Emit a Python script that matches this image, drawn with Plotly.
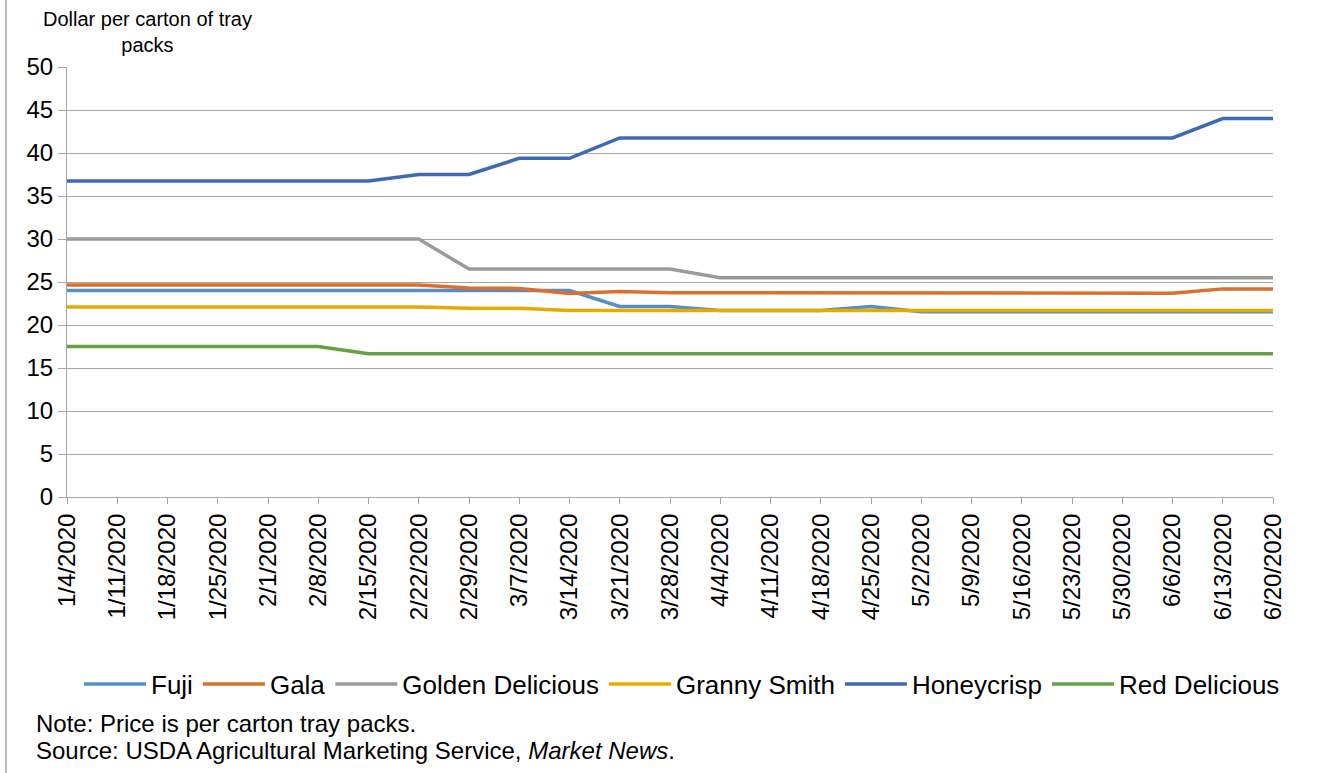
import plotly.graph_objects as go

dates = ["1/4/2020", "1/11/2020", "1/18/2020", "1/25/2020", "2/1/2020", "2/8/2020",
         "2/15/2020", "2/22/2020", "2/29/2020", "3/7/2020", "3/14/2020", "3/21/2020",
         "3/28/2020", "4/4/2020", "4/11/2020", "4/18/2020", "4/25/2020", "5/2/2020",
         "5/9/2020", "5/16/2020", "5/23/2020", "5/30/2020", "6/6/2020", "6/13/2020",
         "6/20/2020"]

fuji = [24.0, 24.0, 24.0, 24.0, 24.0, 24.0, 24.0, 24.0, 24.0, 24.0, 24.0, 22.15,
        22.15, 21.7, 21.7, 21.7, 22.15, 21.55, 21.55, 21.55, 21.55, 21.55, 21.55, 21.55,
        21.55]
gala = [24.65, 24.65, 24.65, 24.65, 24.65, 24.65, 24.65, 24.65, 24.3, 24.25, 23.65, 23.9,
        23.75, 23.75, 23.75, 23.7, 23.7, 23.7, 23.7, 23.7, 23.7, 23.7, 23.7, 24.2,
        24.2]
golden = [30.0, 30.0, 30.0, 30.0, 30.0, 30.0, 30.0, 30.0, 26.5, 26.5, 26.5, 26.5,
          26.5, 25.5, 25.5, 25.5, 25.5, 25.5, 25.5, 25.5, 25.5, 25.5, 25.5, 25.5,
          25.5]
granny = [22.1, 22.1, 22.1, 22.1, 22.1, 22.1, 22.1, 22.1, 21.95, 21.95, 21.7, 21.7,
          21.7, 21.7, 21.7, 21.7, 21.7, 21.7, 21.7, 21.7, 21.7, 21.7, 21.7, 21.7,
          21.7]
honeycrisp = [36.75, 36.75, 36.75, 36.75, 36.75, 36.75, 36.75, 37.5, 37.5, 39.38, 39.38, 41.75,
              41.75, 41.75, 41.75, 41.75, 41.75, 41.75, 41.75, 41.75, 41.75, 41.75, 41.75, 44.0,
              44.0]
red = [17.5, 17.5, 17.5, 17.5, 17.5, 17.5, 16.65, 16.7, 16.65, 16.65, 16.65, 16.65,
       16.65, 16.65, 16.65, 16.65, 16.65, 16.65, 16.65, 16.65, 16.65, 16.65, 16.65, 16.65,
       16.65]

series = [
    ("Fuji", fuji, "#5490c8"),
    ("Gala", gala, "#dc6f2c"),
    ("Golden Delicious", golden, "#9b9b9b"),
    ("Granny Smith", granny, "#e6ab00"),
    ("Honeycrisp", honeycrisp, "#4069b5"),
    ("Red Delicious", red, "#66a044"),
]

FONT = "Liberation Sans, Arial, sans-serif"

fig = go.Figure()
for name, vals, col in series:
    fig.add_trace(go.Scatter(x=dates, y=vals, name=name, mode="lines",
                             line=dict(color=col, width=3.5)))

fig.update_layout(
    width=1325, height=773,
    margin=dict(l=67, r=52, t=67, b=276),
    paper_bgcolor="white", plot_bgcolor="white",
    font=dict(family=FONT, color="black"),
    showlegend=True,
    legend=dict(orientation="h", x=(682 - 67) / 1206, xanchor="center",
                y=(497 - 684) / 430, yanchor="middle",
                font=dict(size=26, family=FONT), itemwidth=62,
                tracegroupgap=0, traceorder="normal"),
    xaxis=dict(type="category", range=[0, len(dates) - 1], tickangle=-90,
               tickfont=dict(size=24, family=FONT), showgrid=False,
               showline=True, linecolor="#a6a6a6", linewidth=1,
               ticks="outside", ticklen=6, tickcolor="#a6a6a6", fixedrange=True),
    yaxis=dict(range=[0, 50], dtick=5, tickfont=dict(size=24, family=FONT),
               showgrid=True, gridcolor="#a6a6a6", gridwidth=1,
               showline=True, linecolor="#a6a6a6", linewidth=1,
               ticks="outside", ticklen=8, tickcolor="#a6a6a6", zeroline=False),
    annotations=[
        dict(text="Dollar per carton of tray<br>packs", xref="paper", yref="paper",
             x=(147 - 67) / 1206, y=(497 - 32) / 430, xanchor="center", yanchor="middle",
             showarrow=False, font=dict(size=20, family=FONT), align="center"),
        dict(text="Note: Price is per carton tray packs.", xref="paper", yref="paper",
             x=(34 - 67) / 1206, y=(497 - 723) / 430, xanchor="left", yanchor="middle",
             showarrow=False, font=dict(size=24, family=FONT)),
        dict(text="Source: USDA Agricultural Marketing Service, <i>Market News</i>.",
             xref="paper", yref="paper",
             x=(34 - 67) / 1206, y=(497 - 750) / 430, xanchor="left", yanchor="middle",
             showarrow=False, font=dict(size=24, family=FONT)),
    ],
    shapes=[
        dict(type="line", xref="paper", yref="paper", x0=(6 - 67) / 1206, x1=(6 - 67) / 1206,
             y0=(497 - 0) / 430, y1=(497 - 773) / 430, line=dict(color="#a6a6a6", width=1.5)),
    ],
)

fig.write_html("out.html", config={"displayModeBar": False},
               post_script="document.body.style.margin='0px';")
